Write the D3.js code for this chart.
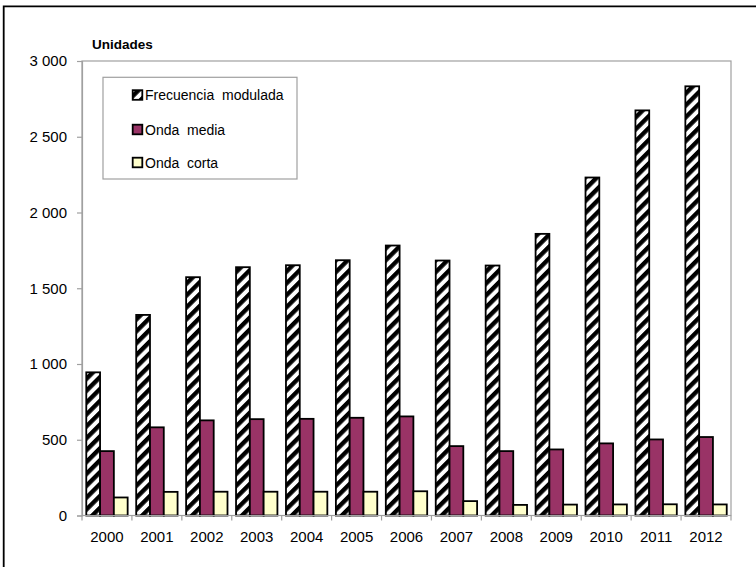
<!DOCTYPE html>
<html>
<head>
<meta charset="utf-8">
<script src="https://cdn.jsdelivr.net/npm/d3@7/dist/d3.min.js"></script>
<style>
  html, body { margin: 0; padding: 0; background: #fff; }
  svg { display: block; }
  text { font-family: "Liberation Sans", Arial, sans-serif; fill: #000; }
</style>
</head>
<body>
<svg id="chart" width="756" height="567"></svg>
<script>
const years = ["2000","2001","2002","2003","2004","2005","2006","2007","2008","2009","2010","2011","2012"];
const seriesNames = ["Frecuencia  modulada", "Onda  media", "Onda  corta"];
const fm    = [945, 1324, 1573, 1639, 1652, 1685, 1782, 1683, 1650, 1859, 2231, 2674, 2833];
const media = [425, 582, 628, 636, 638, 645, 654, 458, 425, 436, 476, 502, 518];
const corta = [119, 156, 157, 157, 157, 157, 160, 95, 70, 72, 73, 74, 73];
const yTicks = [0, 500, 1000, 1500, 2000, 2500, 3000];
const yTitle = "Unidades";

(function () {
const seriesValues = [fm, media, corta];
const fills = ["url(#diag)", "#993366", "#FFFFCC"];

const svg = d3.select("#chart");
const defs = svg.append("defs");
const pat = defs.append("pattern")
  .attr("id", "diag")
  .attr("patternUnits", "userSpaceOnUse")
  .attr("width", 8.4).attr("height", 8.4)
  .attr("patternTransform", "rotate(45)");
pat.append("rect").attr("width", 8.4).attr("height", 8.4).attr("fill", "#fff");
pat.append("rect").attr("width", 4.4).attr("height", 8.4).attr("fill", "#000");

// outer frame
svg.append("path")
  .attr("d", "M3.7,567 L3.7,6.3 L756,6.3")
  .attr("fill", "none").attr("stroke", "#000").attr("stroke-width", 1.8);

const pLeft = 82, pRight = 731, pTop = 61, pBottom = 515.5;

const x = d3.scaleBand().domain(years).range([pLeft, pRight]).padding(0);
const xs = d3.scaleBand().domain(d3.range(3)).range([0, x.bandwidth()]).paddingInner(0).paddingOuter(0.31);
const y = d3.scaleLinear().domain([0, 3000]).range([pBottom, pTop]);

// plot area border
svg.append("rect")
  .attr("x", pLeft).attr("y", pTop).attr("width", pRight - pLeft).attr("height", pBottom - pTop)
  .attr("fill", "none").attr("stroke", "#a0a0a0").attr("stroke-width", 1.2);

// bars
const groups = svg.append("g").selectAll("g")
  .data(years).join("g")
  .attr("transform", d => `translate(${x(d)},0)`);

groups.selectAll("rect")
  .data((d, i) => seriesValues.map((s, k) => ({k, v: s[i]})))
  .join("rect")
  .attr("x", d => xs(d.k))
  .attr("width", xs.bandwidth())
  .attr("y", d => y(d.v))
  .attr("height", d => y(0) - y(d.v))
  .attr("fill", d => fills[d.k])
  .attr("stroke", "#000")
  .attr("stroke-width", 1.8);

// y axis
const fmt = v => d3.format(",")(v).replace(/,/g, " ");
const yAxis = d3.axisLeft(y).tickValues(yTicks).tickSize(5).tickPadding(10).tickFormat(fmt);
const gy = svg.append("g").attr("transform", `translate(${pLeft},0)`).call(yAxis);
gy.select(".domain").attr("stroke", "#a0a0a0").attr("stroke-width", 1.2);
gy.selectAll(".tick line").attr("stroke", "#a0a0a0").attr("stroke-width", 1.2);
gy.selectAll(".tick text").attr("font-size", 15).attr("font-family", "Liberation Sans, Arial, sans-serif").attr("fill", "#000");

// x axis: ticks at category boundaries
const gx = svg.append("g").attr("transform", `translate(0,${pBottom})`);
gx.append("line").attr("x1", pLeft).attr("x2", pRight).attr("stroke", "#a0a0a0").attr("stroke-width", 1.2);
const boundaries = years.map(d => x(d)).concat([x(years[years.length-1]) + x.bandwidth()]);
gx.selectAll("line.tk").data(boundaries).join("line").attr("class", "tk")
  .attr("x1", d => d).attr("x2", d => d).attr("y1", 0).attr("y2", 5)
  .attr("stroke", "#a0a0a0").attr("stroke-width", 1.2);
gx.selectAll("text").data(years).join("text")
  .attr("x", d => x(d) + x.bandwidth() / 2)
  .attr("y", 26.5)
  .attr("text-anchor", "middle")
  .attr("font-size", 15)
  .text(d => d);

// y title
svg.append("text").attr("x", 92).attr("y", 48.5)
  .attr("font-size", 13.5).attr("font-weight", "bold").text(yTitle);

// legend
const lg = svg.append("g");
lg.append("rect").attr("x", 103).attr("y", 77.3).attr("width", 194).attr("height", 101.7)
  .attr("fill", "#fff").attr("stroke", "#a0a0a0").attr("stroke-width", 1.2);
const rowY = [95, 129.5, 162.5];
seriesNames.forEach((name, k) => {
  lg.append("rect").attr("x", 132.7).attr("y", rowY[k] - 4.8).attr("width", 9.6).attr("height", 9.6)
    .attr("fill", fills[k]).attr("stroke", "#000").attr("stroke-width", 1.8);
  lg.append("text").attr("x", 145).attr("y", rowY[k] + 5)
    .attr("font-size", 14).attr("xml:space", "preserve").style("white-space", "pre").text(name);
});
})();
</script>
</body>
</html>
